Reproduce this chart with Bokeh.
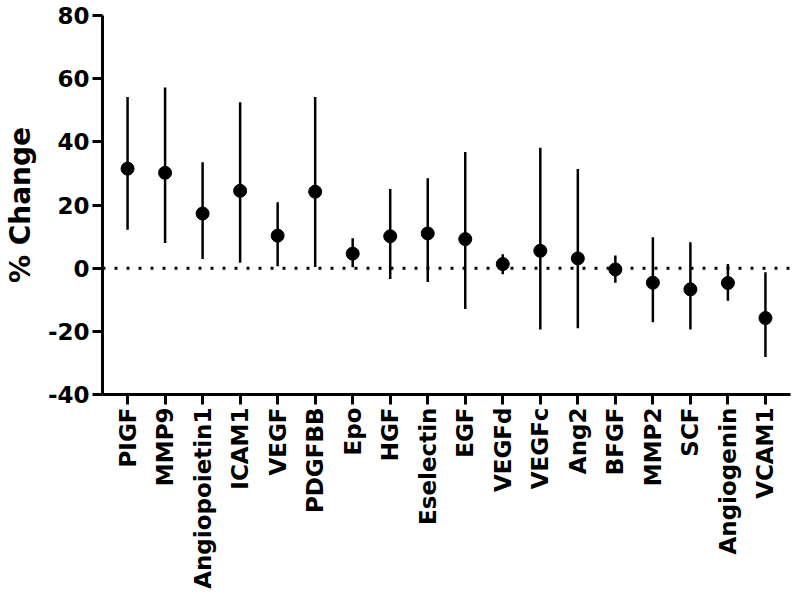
import math
from bokeh.plotting import figure
from bokeh.models import FactorRange, Span, FixedTicker
from bokeh.embed import file_html
from bokeh.resources import INLINE

categories = ["PIGF", "MMP9", "Angiopoietin1", "ICAM1", "VEGF", "PDGFBB", "Epo", "HGF",
              "Eselectin", "EGF", "VEGFd", "VEGFc", "Ang2", "BFGF", "MMP2", "SCF",
              "Angiogenin", "VCAM1"]
mean = [31.5, 30.2, 17.3, 24.5, 10.3, 24.2, 4.6, 10.1, 11.0, 9.2, 1.3, 5.5, 3.1, -0.4,
        -4.6, -6.7, -4.7, -15.8]
upper = [54.2, 57.2, 33.5, 52.5, 20.9, 54.2, 9.5, 25.1, 28.5, 36.8, 4.4, 38.1, 31.4, 4.0,
         9.8, 8.2, 1.3, -1.3]
lower = [12.2, 8.0, 2.9, 1.7, 0.6, 0.4, 0.3, -3.4, -4.4, -12.9, -1.9, -19.4, -19.0, -4.6,
         -17.1, -19.4, -10.3, -28.1]
y_ticks = [-40, -20, 0, 20, 40, 60, 80]
y_tick_labels = ["-40", "-20", "0", "20", "40", "60", "80"]

FONT = "DejaVu Sans"

p = figure(width=792, height=600, output_backend="svg", toolbar_location=None,
           x_range=FactorRange(factors=categories, range_padding=0.168,
                               range_padding_units="absolute"),
           y_range=(-40, 80),
           min_border_left=102, min_border_right=2, min_border_top=15, min_border_bottom=206)
p.outline_line_color = None
p.grid.visible = False

p.add_layout(Span(location=0, dimension="width", line_color="black", line_width=3,
                  line_dash="3 9"))

p.segment(x0=categories, y0=lower, x1=categories, y1=upper, line_color="black", line_width=2.5)
p.scatter(x=categories, y=mean, size=13, color="black")

for ax in (p.xaxis[0], p.yaxis[0]):
    ax.axis_line_width = 3
    ax.major_tick_line_width = 3
    ax.major_tick_out = 10
    ax.major_tick_in = 0
    ax.minor_tick_line_color = None
    ax.major_label_text_font = FONT
    ax.major_label_text_font_style = "bold"
    ax.major_label_text_color = "black"
    ax.major_label_standoff = 3
    ax.axis_line_color = "black"
    ax.major_tick_line_color = "black"

p.yaxis.ticker = FixedTicker(ticks=y_ticks)
p.yaxis.major_label_overrides = dict(zip(y_ticks, y_tick_labels))
p.yaxis.major_label_text_font_size = "23px"
p.yaxis.axis_label = "% Change"
p.yaxis.axis_label_text_font = FONT
p.yaxis.axis_label_text_font_style = "bold"
p.yaxis.axis_label_text_font_size = "28px"
p.yaxis.axis_label_text_color = "black"
p.yaxis.axis_label_standoff = 8

p.xaxis.major_label_orientation = math.pi / 2
p.xaxis.major_label_text_font_size = "23px"

open("out.html", "w").write(file_html(p, INLINE))
